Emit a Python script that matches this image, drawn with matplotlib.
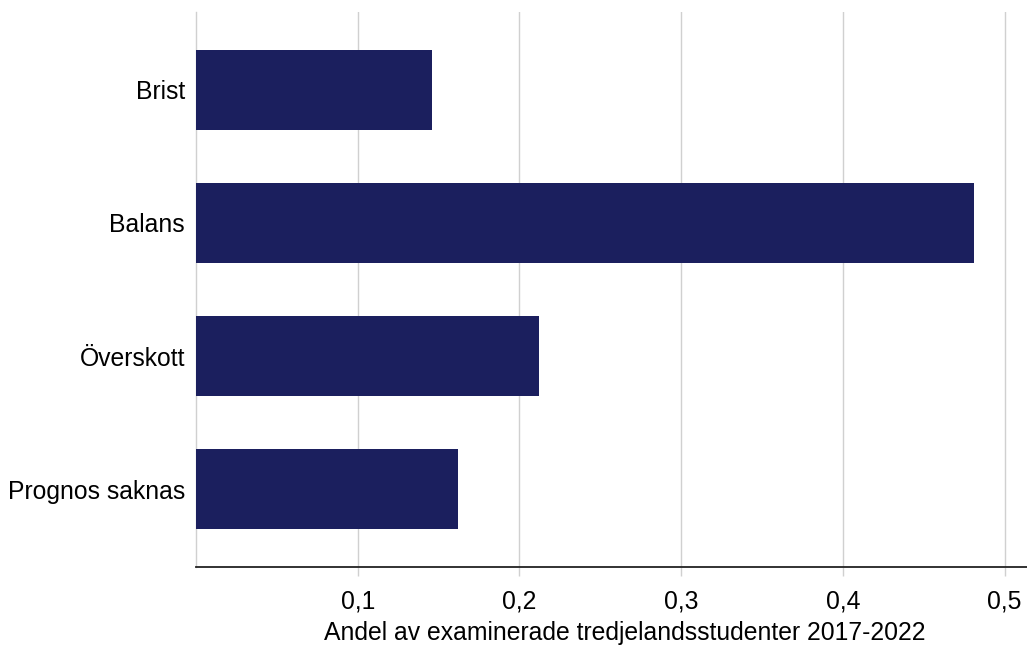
import matplotlib
matplotlib.use("Agg")
import matplotlib.pyplot as plt
from matplotlib.ticker import FuncFormatter

categories = ["Brist", "Balans", "Överskott", "Prognos saknas"]
values = [0.146, 0.481, 0.212, 0.162]
xticks = [0.1, 0.2, 0.3, 0.4, 0.5]
xlabel = "Andel av examinerade tredjelandsstudenter 2017-2022"

plt.rcParams['font.family'] = ['Liberation Sans', 'DejaVu Sans']

W, H, DPI = 1027, 646, 100
FS = 17.8
fig = plt.figure(figsize=(W / DPI, H / DPI), dpi=DPI)
ax = fig.add_axes([196 / W, 1 - 567 / H, (W - 196) / W, (567 - 12) / H])

pos = list(range(len(categories)))
ax.barh(pos, values, height=0.6, color="#1b1f5e", zorder=3)
ax.set_yticks(pos)
ax.set_yticklabels(categories)
ax.set_ylim(len(categories) - 1 + 0.586, -0.586)
ax.set_xlim(0, (W - 196) / 1617.0)

ax.set_xticks(xticks)
ax.xaxis.set_major_formatter(FuncFormatter(lambda v, p: f"{v:.1f}".replace(".", ",")))
ax.grid(axis="x", color="#d0d0d0", linewidth=1, zorder=0)
ax.set_axisbelow(True)

for s in ["top", "right"]:
    ax.spines[s].set_visible(False)
ax.spines["left"].set_color("#d0d0d0")
ax.spines["left"].set_linewidth(1)
ax.spines["bottom"].set_color("#222222")
ax.spines["bottom"].set_linewidth(1.3)

ax.tick_params(axis="y", length=0, pad=8, labelsize=FS)
ax.tick_params(axis="x", length=6.5, color="#d0d0d0", width=1, pad=10, labelsize=FS)
fig.text(625 / W, 1 - 633 / H, xlabel, fontsize=FS, ha="center", va="center")

fig.savefig("out.png", dpi=DPI)
